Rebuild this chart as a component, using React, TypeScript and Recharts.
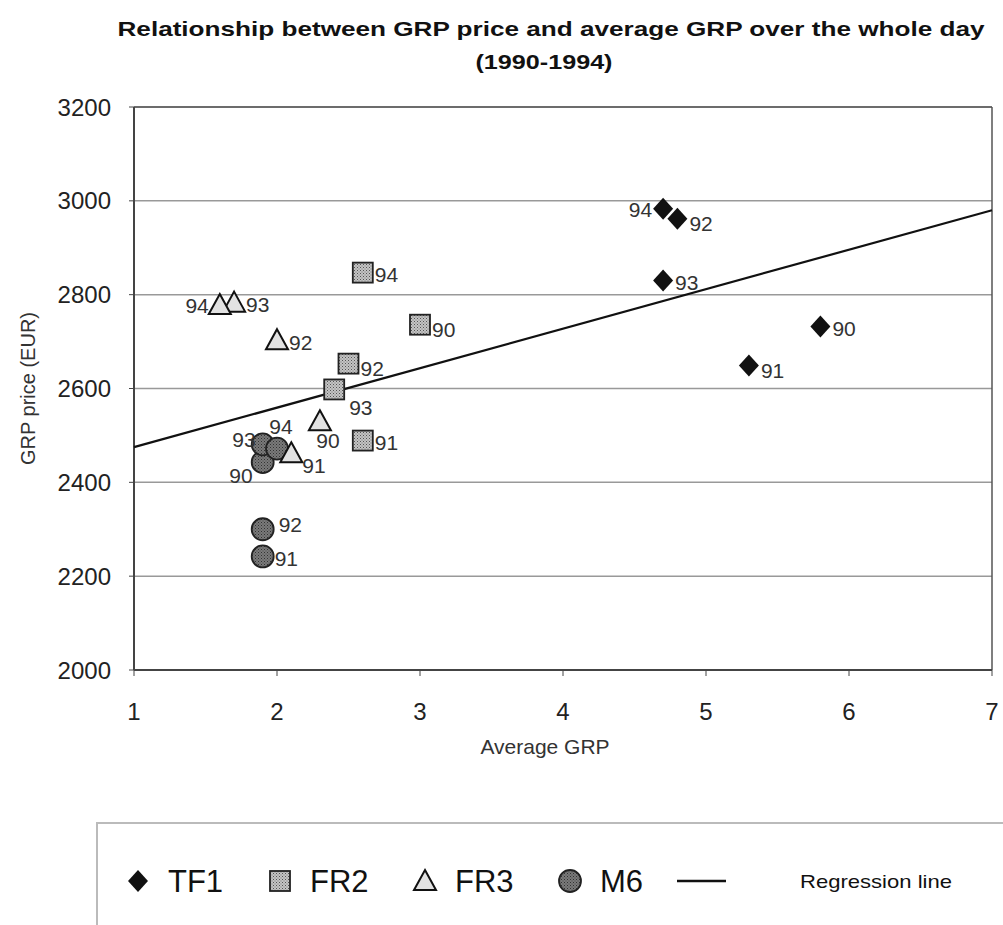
import React from "react";
import { ScatterChart, Scatter, XAxis, YAxis, CartesianGrid, ReferenceLine } from "recharts";

const FONT = '"Liberation Sans", Arial, sans-serif';

const years = ["90", "91", "92", "93", "94"];

const tf1X = [5.8, 5.3, 4.8, 4.7, 4.7];
const tf1Y = [2732, 2649, 2962, 2830, 2983];
const fr2X = [3.0, 2.6, 2.5, 2.4, 2.6];
const fr2Y = [2736, 2489, 2653, 2598, 2847];
const fr3X = [2.3, 2.1, 2.0, 1.7, 1.6];
const fr3Y = [2530, 2462, 2703, 2783, 2778];
const m6X = [1.9, 1.9, 1.9, 1.9, 2.0];
const m6Y = [2443, 2242, 2300, 2481, 2472];

const regX = [1, 7];
const regY = [2475, 2980];

const xTicks = [1, 2, 3, 4, 5, 6, 7];
const yTicks = [2000, 2200, 2400, 2600, 2800, 3000, 3200];

// where each year label sits relative to its marker
const tf1Place = ["r", "rd", "rd", "r", "l"];
const fr2Place = ["rd", "r", "rd", "br", "r"];
const fr3Place = ["b", "rdd", "r", "r", "l"];
const m6Place = ["bl", "r", "ru", "lu", "a"];

const PLACE: Record<string, [number, number, string]> = {
  r: [12, 2, "start"],
  rd: [12, 5, "start"],
  rdd: [11, 12, "start"],
  ru: [16, -5, "start"],
  l: [-11, 1, "end"],
  lu: [-7, -5, "end"],
  a: [4, -22, "middle"],
  b: [8, 19, "middle"],
  br: [15, 18, "start"],
  bl: [-10, 13, "end"],
};

const build = (xs: number[], ys: number[], place: string[]) =>
  xs.map((x, i) => ({ x, y: ys[i], year: years[i], place: place[i] }));

const tf1 = build(tf1X, tf1Y, tf1Place);
const fr2 = build(fr2X, fr2Y, fr2Place);
const fr3 = build(fr3X, fr3Y, fr3Place);
const m6 = build(m6X, m6Y, m6Place);
const reg = regX.map((x, i) => ({ x, y: regY[i] }));

function Marker({ kind, cx, cy }: { kind: string; cx: number; cy: number }) {
  if (kind === "diamond")
    return <polygon points={`${cx},${cy - 11} ${cx + 10},${cy} ${cx},${cy + 11} ${cx - 10},${cy}`} fill="#111" />;
  if (kind === "square")
    return <rect x={cx - 10} y={cy - 10} width={20} height={20} fill="url(#dotLight)" stroke="#222" strokeWidth={1.8} />;
  if (kind === "triangle")
    return (
      <polygon
        points={`${cx},${cy - 11} ${cx + 11},${cy + 9} ${cx - 11},${cy + 9}`}
        fill="#e2e2e2"
        stroke="#111"
        strokeWidth={2}
      />
    );
  return <circle cx={cx} cy={cy} r={11} fill="url(#dotDark)" stroke="#222" strokeWidth={1.8} />;
}

const makeShape = (kind: string) => (props: any) => {
  const { cx, cy, payload } = props;
  const [dx, dy, anchor] = PLACE[payload.place] || PLACE.r;
  return (
    <g>
      <Marker kind={kind} cx={cx} cy={cy} />
      <text
        x={cx + dx}
        y={cy + dy}
        textAnchor={anchor as any}
        dominantBaseline="central"
        fontSize={21}
        fontFamily={FONT}
        fill="#333"
      >
        {payload.year}
      </text>
    </g>
  );
};

const legendItems = [
  { kind: "diamond", name: "TF1", x: 138 },
  { kind: "square", name: "FR2", x: 280 },
  { kind: "triangle", name: "FR3", x: 425 },
  { kind: "circle", name: "M6", x: 570 },
];

export default function App() {
  return (
    <div style={{ position: "absolute", left: 0, top: 0, width: 1003, height: 925, overflow: "hidden", background: "#fff" }}>
      <ScatterChart width={1003} height={770} margin={{ top: 107, right: 11, bottom: 40, left: 0 }}>
        <CartesianGrid vertical={false} stroke="#999" strokeWidth={1.5} />
        <XAxis
          type="number"
          dataKey="x"
          domain={[1, 7]}
          ticks={xTicks}
          height={60}
          tickSize={6}
          tickMargin={27}
          axisLine={{ stroke: "#444", strokeWidth: 2 }}
          tickLine={{ stroke: "#444" }}
          tick={{ fontSize: 24, fill: "#222", fontFamily: FONT }}
          label={{ value: "Average GRP", position: "insideBottom", offset: -24, fontSize: 21, fill: "#333", fontFamily: FONT, dx: -18 }}
        />
        <YAxis
          type="number"
          dataKey="y"
          domain={[2000, 3200]}
          ticks={yTicks}
          width={134}
          tickSize={5}
          tickMargin={18}
          axisLine={{ stroke: "#444", strokeWidth: 2 }}
          tickLine={{ stroke: "#444" }}
          tick={{ fontSize: 24, fill: "#222", fontFamily: FONT }}
          label={{ value: "GRP price (EUR)", angle: -90, position: "insideLeft", offset: 28, fontSize: 20, fill: "#333", fontFamily: FONT, style: { textAnchor: "middle" } }}
        />
        <ReferenceLine y={3200} stroke="#555" strokeWidth={1.5} />
        <ReferenceLine x={7} stroke="#555" strokeWidth={1.5} />
        <Scatter
          name="Regression line"
          data={reg}
          line={{ stroke: "#111", strokeWidth: 2.2 }}
          shape={() => <g />}
          isAnimationActive={false}
        />
        <Scatter name="M6" data={m6} shape={makeShape("circle")} isAnimationActive={false} />
        <Scatter name="FR2" data={fr2} shape={makeShape("square")} isAnimationActive={false} />
        <Scatter name="FR3" data={fr3} shape={makeShape("triangle")} isAnimationActive={false} />
        <Scatter name="TF1" data={tf1} shape={makeShape("diamond")} isAnimationActive={false} />
      </ScatterChart>
      <svg width={1003} height={925} style={{ position: "absolute", left: 0, top: 0, pointerEvents: "none" }}>
        <defs>
          <pattern id="dotLight" width={3} height={3} patternUnits="userSpaceOnUse">
            <rect width={3} height={3} fill="#c4c4c4" />
            <rect width={1} height={1} fill="#555" />
            <rect x={1.5} y={1.5} width={1} height={1} fill="#777" />
          </pattern>
          <pattern id="dotDark" width={3} height={3} patternUnits="userSpaceOnUse">
            <rect width={3} height={3} fill="#7a7a7a" />
            <rect width={1} height={1} fill="#333" />
            <rect x={1.5} y={1.5} width={1} height={1} fill="#444" />
          </pattern>
        </defs>
        <text x={551} y={36} textAnchor="middle" fontSize={21} fontWeight="bold" fontFamily={FONT} fill="#111" textLength={867} lengthAdjust="spacingAndGlyphs">
          Relationship between GRP price and average GRP over the whole day
        </text>
        <text x={544} y={69} textAnchor="middle" fontSize={21} fontWeight="bold" fontFamily={FONT} fill="#111" textLength={137} lengthAdjust="spacingAndGlyphs">
          (1990-1994)
        </text>
        <rect x={97} y={823} width={930} height={130} fill="none" stroke="#bbb" strokeWidth={2} />
        {legendItems.map((it) => (
          <g key={it.name}>
            <Marker kind={it.kind} cx={it.x} cy={881} />
            <text x={it.x + 30} y={892} fontSize={31} fontFamily={FONT} fill="#111">
              {it.name}
            </text>
          </g>
        ))}
        <line x1={677} y1={881} x2={726} y2={881} stroke="#111" strokeWidth={2.5} />
        <text x={800} y={888} fontSize={19} fontFamily={FONT} fill="#111" textLength={152} lengthAdjust="spacingAndGlyphs">
          Regression line
        </text>
      </svg>
    </div>
  );
}
